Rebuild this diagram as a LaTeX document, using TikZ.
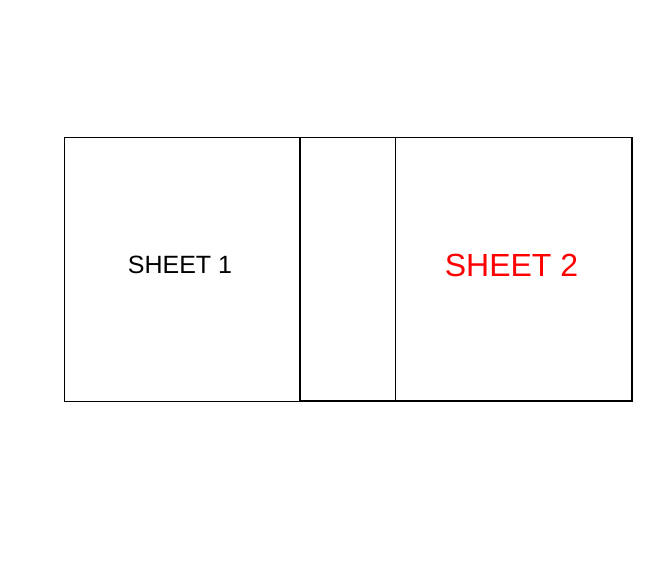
\documentclass[tikz,border=0pt]{standalone}
\usepackage{fontspec}
\setmainfont{Liberation Sans}
\definecolor{sheetred}{RGB}{255,0,0}
\begin{document}
\begin{tikzpicture}[x=1pt,y=-1pt,
  sheetbox/.style={draw=black,inner sep=0pt,outer sep=0pt},
  label1/.style={inner sep=0pt,font=\fontsize{25}{30}\selectfont,text=black},
  label2/.style={inner sep=0pt,font=\fontsize{32}{36}\selectfont,text=sheetred}]
\useasboundingbox (0,0) rectangle (669,585);
\fill[white] (0,0) rectangle (669,585);
\node[sheetbox,line width=0.8pt,minimum width=236pt,minimum height=263.5pt] (s1) at (182,269.25) {};
\node[sheetbox,line width=1.5pt,minimum width=332pt,minimum height=263.5pt] (s2) at (466,269.25) {};
\coordinate (ltop) at (395,137.5);
\coordinate (lbot) at (395,401);
\draw[line width=1pt] (ltop) -- (lbot);
\node[label1] (t1) at (180,265) {SHEET 1};
\node[label2] (t2) at (511.5,265) {SHEET 2};
\end{tikzpicture}
\end{document}
